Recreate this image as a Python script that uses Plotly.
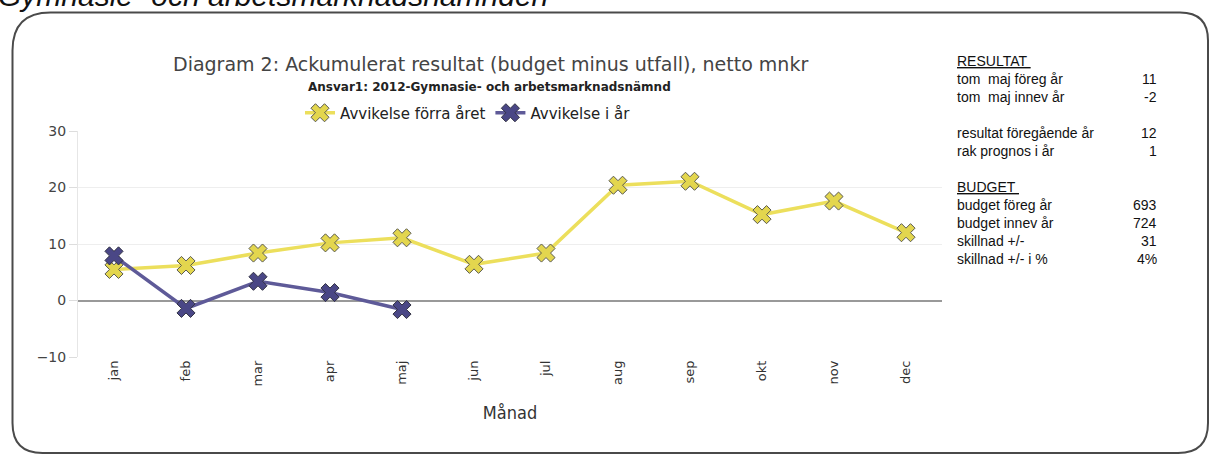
import plotly.graph_objects as go

months = ["jan", "feb", "mar", "apr", "maj", "jun", "jul", "aug", "sep", "okt", "nov", "dec"]
prev_year = [5.5, 6.2, 8.4, 10.2, 11.1, 6.4, 8.4, 20.4, 21.1, 15.2, 17.6, 12.0]
this_year = [7.9, -1.4, 3.4, 1.4, -1.6]
series_names = ["Avvikelse förra året", "Avvikelse i år"]

panel_rows = [
    ("<u>RESULTAT </u>", ""),
    ("tom  maj föreg år", "11"),
    ("tom  maj innev år", "-2"),
    ("", ""),
    ("resultat föregående år", "12"),
    ("rak prognos i år", "1"),
    ("", ""),
    ("<u>BUDGET </u>", ""),
    ("budget föreg år", "693"),
    ("budget innev år", "724"),
    ("skillnad +/-", "31"),
    ("skillnad +/- i %", "4%"),
]
panel_y = [61, 79, 97, 115, 133, 151, 169, 187, 205, 223, 241, 259]

W, H = 1210, 455
L, R, T, B = 78, 942, 131, 357


def px(x):
    return (x - L) / (R - L)


def py(y):
    return (B - y) / (B - T)


fig = go.Figure()
fig.add_trace(go.Scatter(
    x=months, y=prev_year, mode="lines+markers", name=series_names[0],
    line=dict(color="#ECDF5C", width=3.5),
    marker=dict(symbol="x", size=16, color="#E3D64E", line=dict(color="#5a5a50", width=1)),
))
fig.add_trace(go.Scatter(
    x=months[:len(this_year)], y=this_year, mode="lines+markers", name=series_names[1],
    line=dict(color="#5E5A98", width=3.5),
    marker=dict(symbol="x", size=16, color="#4A4786", line=dict(color="#333344", width=1)),
))

shapes = []
x0, x1, y0, y1 = 12.5, 1208, 12.5, 453
rtl, rtr, rbl, rbr = 38, 28, 30, 30
path = (f"M {px(x0)},{py(y0 + rtl)} Q {px(x0)},{py(y0)} {px(x0 + rtl)},{py(y0)} "
        f"L {px(x1 - rtr)},{py(y0)} Q {px(x1)},{py(y0)} {px(x1)},{py(y0 + rtr)} "
        f"L {px(x1)},{py(y1 - rbr)} Q {px(x1)},{py(y1)} {px(x1 - rbr)},{py(y1)} "
        f"L {px(x0 + rbl)},{py(y1)} Q {px(x0)},{py(y1)} {px(x0)},{py(y1 - rbl)} Z")
shapes.append(dict(type="path", xref="paper", yref="paper", path=path,
                   line=dict(color="#4a4a4a", width=2), layer="below"))

annotations = []
annotations.append(dict(xref="paper", yref="paper", x=px(-4), y=py(-5), xanchor="left", yanchor="middle",
                        text="Gymnasie- och arbetsmarknadsnämnden", showarrow=False,
                        font=dict(family="Liberation Sans", size=30, color="#111", style="italic")))
annotations.append(dict(xref="paper", yref="paper", x=px(490), y=py(64), xanchor="center", yanchor="middle",
                        text="Diagram 2: Ackumulerat resultat (budget minus utfall), netto mnkr", showarrow=False,
                        font=dict(family="DejaVu Sans", size=19, color="#444")))
annotations.append(dict(xref="paper", yref="paper", x=px(489), y=py(87), xanchor="center", yanchor="middle",
                        text="<b>Ansvar1: 2012-Gymnasie- och arbetsmarknadsnämnd</b>", showarrow=False,
                        font=dict(family="DejaVu Sans", size=12, color="#222")))
for (lab, val), yy in zip(panel_rows, panel_y):
    if lab:
        annotations.append(dict(xref="paper", yref="paper", x=px(955), y=py(yy), xanchor="left", yanchor="middle",
                                text=lab, showarrow=False,
                                font=dict(family="Liberation Sans", size=14, color="#111")))
    if val:
        annotations.append(dict(xref="paper", yref="paper", x=px(1159), y=py(yy), xanchor="right", yanchor="middle",
                                text=val, showarrow=False,
                                font=dict(family="Liberation Sans", size=14, color="#111")))

fig.update_layout(
    width=W, height=H,
    margin=dict(l=L, r=W - R, t=T, b=H - B),
    paper_bgcolor="white", plot_bgcolor="white",
    showlegend=True,
    legend=dict(orientation="h", x=px(300), y=py(113), xanchor="left", yanchor="middle",
                font=dict(family="DejaVu Sans", size=15, color="#222"),
                itemwidth=30, tracegroupgap=0, bgcolor="rgba(0,0,0,0)"),
    shapes=shapes, annotations=annotations,
    xaxis=dict(type="category", range=[-0.5, 11.5], tickangle=-90, showgrid=False, zeroline=False,
               showline=False, ticks="",
               tickfont=dict(family="DejaVu Sans", size=13, color="#333"),
               title=dict(text="Månad", font=dict(family="DejaVu Sans Condensed", size=18, color="#333"),
                          standoff=20)),
    yaxis=dict(range=[-10, 30], dtick=10, showgrid=True, gridcolor="#eeeeee", gridwidth=1,
               zeroline=True, zerolinecolor="#999999", zerolinewidth=2,
               showline=True, linecolor="#e6e6e6", linewidth=1,
               ticks="outside", ticklen=8, tickcolor="#dddddd",
               tickfont=dict(family="DejaVu Sans", size=14, color="#444")),
)

fig.write_html("out.html", config={"displayModeBar": False},
               post_script="document.body.style.margin='0';document.body.style.padding='0';")
